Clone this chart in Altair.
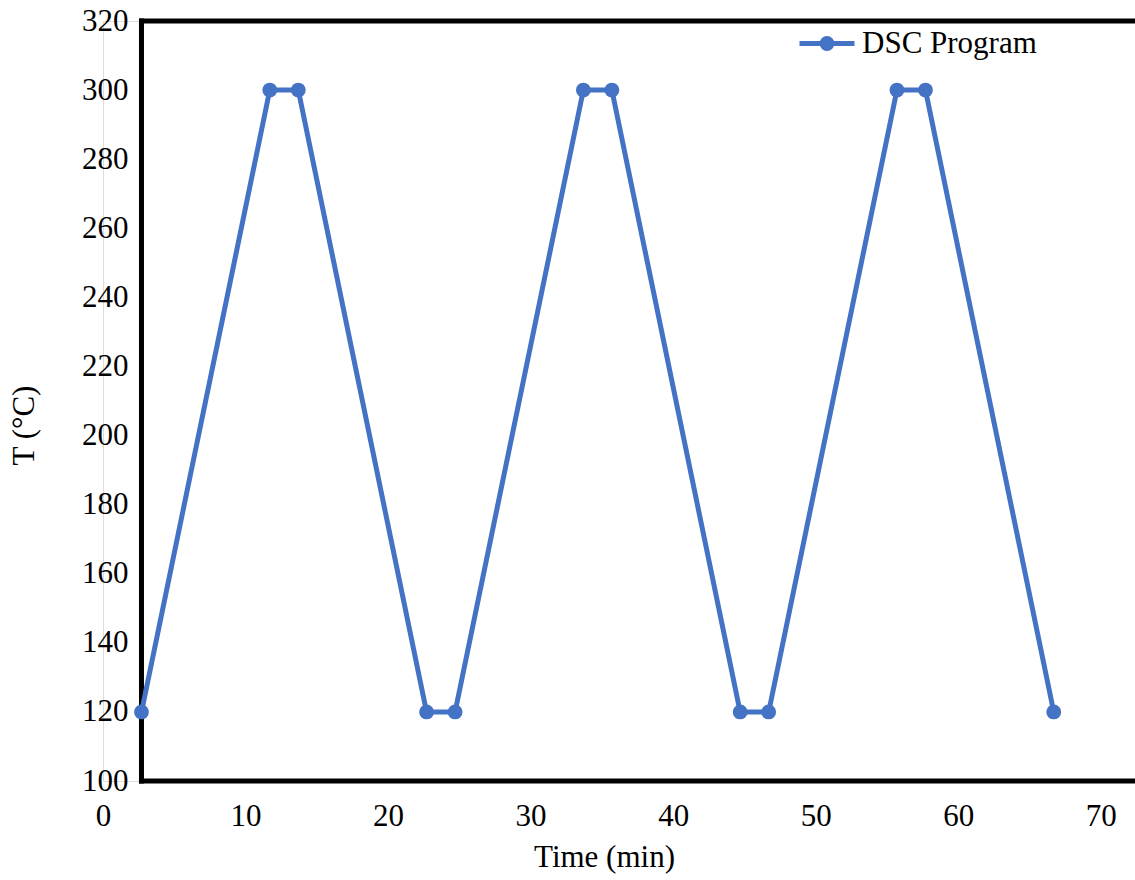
import altair as alt
import pandas as pd

# Data
time_min = [2.7, 11.7, 13.7, 22.7, 24.7, 33.7, 35.7, 44.7, 46.7, 55.7, 57.7, 66.7]
temp_c = [120, 300, 300, 120, 120, 300, 300, 120, 120, 300, 300, 120]
series_name = "DSC Program"
x_ticks = [0, 10, 20, 30, 40, 50, 60, 70]
y_ticks = [100, 120, 140, 160, 180, 200, 220, 240, 260, 280, 300, 320]

X_MIN, X_MAX = 0, 72.4
Y_MIN, Y_MAX = 100, 320
FRAME_LEFT = 2.7
BLUE = "#4472C4"
FONT = "Liberation Serif"
FS = 31

df = pd.DataFrame({"t": time_min, "T": temp_c, "series": [series_name] * len(time_min)})

xscale = alt.Scale(domain=[X_MIN, X_MAX], nice=False, zero=False)
yscale = alt.Scale(domain=[Y_MIN, Y_MAX], nice=False, zero=False)

xaxis = alt.Axis(values=x_ticks, title="Time (min)", grid=False, domain=False, ticks=False,
                 labelFlush=False, labelOverlap=False, labelPadding=20,
                 labelFont=FONT, labelFontSize=FS, labelColor="black",
                 titleFont=FONT, titleFontSize=FS, titleFontWeight="normal", titleColor="black",
                 titleX=501, titleY=76, titleBaseline="middle", titleAlign="center")
yaxis = alt.Axis(values=y_ticks, title="T (°C)", grid=False, domain=False, ticks=False,
                 offset=-39, labelPadding=14,
                 labelFont=FONT, labelFontSize=FS, labelColor="black",
                 titleFont=FONT, titleFontSize=FS, titleFontWeight="normal", titleColor="black",
                 titleAngle=270, titleX=-118, titleY=404, titleBaseline="middle", titleAlign="center")

frame_v = pd.DataFrame({"x": [FRAME_LEFT], "y": [Y_MIN], "y2": [Y_MAX]})
frame_h = pd.DataFrame({"x": [FRAME_LEFT, FRAME_LEFT], "x2": [X_MAX, X_MAX], "y": [Y_MIN, Y_MAX]})

left_rule = alt.Chart(frame_v).mark_rule(color="black", strokeWidth=5, strokeCap="square").encode(
    x=alt.X("x:Q", scale=xscale, axis=xaxis),
    y=alt.Y("y:Q", scale=yscale, axis=yaxis),
    y2="y2:Q",
)
hz_rules = alt.Chart(frame_h).mark_rule(color="black", strokeWidth=5, strokeCap="square").encode(
    x=alt.X("x:Q", scale=xscale),
    x2="x2:Q",
    y=alt.Y("y:Q", scale=yscale),
)

legend_path = "M-1,0L1,0M-0.18,0A0.18,0.18,0,1,1,0.18,0A0.18,0.18,0,1,1,-0.18,0Z"

line = alt.Chart(df).mark_line(strokeWidth=5).encode(
    x=alt.X("t:Q", scale=xscale),
    y=alt.Y("T:Q", scale=yscale),
    color=alt.Color("series:N", scale=alt.Scale(domain=[series_name], range=[BLUE]),
                    legend=alt.Legend(title=None, orient="none", legendX=694, legendY=-7.5,
                                      symbolType=legend_path, symbolSize=3025,
                                      symbolStrokeWidth=5, symbolFillColor=BLUE,
                                      symbolStrokeColor=BLUE, labelOffset=5, labelLimit=0,
                                      labelFont=FONT, labelFontSize=FS, labelColor="black",
                                      padding=0)),
)
points = alt.Chart(df).mark_point(filled=True, size=220, opacity=1, color=BLUE).encode(
    x=alt.X("t:Q", scale=xscale),
    y=alt.Y("T:Q", scale=yscale),
)

chart = alt.layer(left_rule, hz_rules, line, points).properties(
    width=1032, height=760,
    autosize=alt.AutoSizeParams(type="none"),
    padding={"left": 103, "top": 21, "right": 0, "bottom": 98},
).configure_view(stroke=None).configure(background="white")

chart.save("out.html", embed_options={"renderer": "svg", "actions": False})
